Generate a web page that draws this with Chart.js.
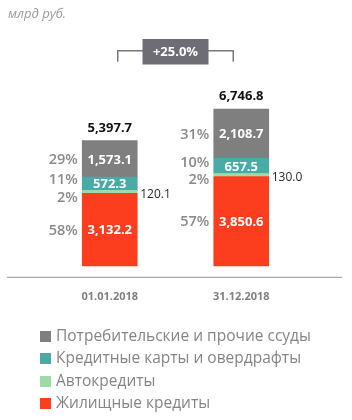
<!DOCTYPE html>
<html>
<head>
<meta charset="utf-8">
<script src="https://cdn.jsdelivr.net/npm/chart.js@4/dist/chart.umd.min.js"></script>
<style>
  html, body { margin: 0; padding: 0; background: #fff; }
  #wrap { position: relative; width: 352px; height: 420px; overflow: hidden; }
  #unit { position: absolute; left: 8px; top: 4px; font: italic 13px "Open Sans", sans-serif; color: #9a9a9a; }
  #legend { position: absolute; left: 40px; top: 324px; font: 15.5px "Open Sans", sans-serif; color: #858585; }
  #legend div { height: 22.3px; line-height: 22.3px; white-space: nowrap; }
  #legend span.box { display: inline-block; width: 11px; height: 11px; margin-right: 5px; vertical-align: -1px; }
</style>
</head>
<body>
<div id="wrap">
  <canvas id="c" width="352" height="420"></canvas>
  <div id="unit">млрд руб.</div>
  <div id="legend"></div>
</div>
<script>
// ---- data ----
const categories = ['01.01.2018', '31.12.2018'];
const housing  = [3132.2, 3850.6];
const autoLoans = [120.1, 130.0];
const cards    = [572.3, 657.5];
const consumer = [1573.1, 2108.7];
const totals   = [5397.7, 6746.8];
const housingShare  = [58, 57];
const autoShare     = [2, 2];
const cardsShare    = [11, 10];
const consumerShare = [29, 31];
const growthLabel = '+25.0%';
const seriesNames = ['Жилищные кредиты', 'Автокредиты', 'Кредитные карты и овердрафты', 'Потребительские и прочие ссуды'];
const seriesColors = ['#fc3e1e', '#9ddaa6', '#48aba6', '#7f7f7f'];

const fmt = v => v.toLocaleString('en-US', {minimumFractionDigits: 1, maximumFractionDigits: 1});
const FONT = '"Open Sans", sans-serif';

const seriesValues = [housing, autoLoans, cards, consumer];
const seriesShares = [housingShare, autoShare, cardsShare, consumerShare];

const labelPlugin = {
  id: 'labels',
  afterDatasetsDraw(chart) {
    const ctx = chart.ctx;
    const area = chart.chartArea;
    ctx.save();
    // axis line
    ctx.strokeStyle = '#a8a8a8';
    ctx.lineWidth = 1.2;
    ctx.beginPath();
    ctx.moveTo(7, area.bottom + 0.5);
    ctx.lineTo(342, area.bottom + 0.5);
    ctx.stroke();

    const metas = chart.data.datasets.map((d, i) => chart.getDatasetMeta(i));
    categories.forEach((cat, ci) => {
      const els = metas.map(m => m.data[ci]);
      const left = els[0].x - els[0].width / 2;
      const right = els[0].x + els[0].width / 2;
      // value labels inside bars
      ctx.textAlign = 'center';
      ctx.textBaseline = 'middle';
      ctx.font = 'bold 13px ' + FONT;
      ctx.fillStyle = '#ffffff';
      [0, 2, 3].forEach(si => {
        const e = els[si];
        ctx.fillText(fmt(seriesValues[si][ci]), e.x, (e.y + e.base) / 2 + 1);
      });
      // small auto label outside
      const ea = els[1];
      ctx.textAlign = 'left';
      ctx.font = '12px ' + FONT;
      ctx.fillStyle = '#2a2a2a';
      ctx.fillText(fmt(autoLoans[ci]), right + 3, (ea.y + ea.base) / 2 + 3);
      // total
      const top = els[3].y;
      ctx.textAlign = 'center';
      ctx.font = 'bold 13px ' + FONT;
      ctx.fillStyle = '#111';
      ctx.fillText(fmt(totals[ci]), els[0].x, top - 12.5);
      // percent labels, spread apart to avoid overlap
      let ys = els.map(e => (e.y + e.base) / 2);
      const gap = 17.5;
      for (let it = 0; it < 50; it++) {
        for (let k = 0; k < ys.length - 1; k++) {
          const d = ys[k] - ys[k + 1];
          if (d < gap) {
            const push = (gap - d) / 2;
            ys[k] += push;
            ys[k + 1] -= push;
          }
        }
      }
      ctx.textAlign = 'right';
      ctx.font = '600 14.5px ' + FONT;
      ctx.fillStyle = '#8a8a8a';
      seriesShares.forEach((arr, si) => {
        ctx.fillText(arr[ci] + '%', left - 4.5, ys[si] + 1);
      });
    });

    // growth bracket
    const x1 = metas[0].data[0].x + 8;
    const x2 = metas[0].data[1].x - 8;
    const yl = 50.7;
    ctx.strokeStyle = '#7a7a7a';
    ctx.lineWidth = 1.5;
    ctx.beginPath();
    ctx.moveTo(x1, yl + 11); ctx.lineTo(x1, yl); ctx.lineTo(x2, yl); ctx.lineTo(x2, yl + 11);
    ctx.stroke();
    const cx = (x1 + x2) / 2;
    ctx.fillStyle = '#6e6d75';
    ctx.fillRect(cx - 33, 39, 66, 25.5);
    ctx.fillStyle = '#fff';
    ctx.font = 'bold 13px ' + FONT;
    ctx.textAlign = 'center';
    ctx.textBaseline = 'middle';
    ctx.fillText(growthLabel, cx, 52);
    ctx.restore();
  }
};

const datasets = seriesNames.map((name, i) => ({
  label: name,
  data: seriesValues[i],
  backgroundColor: seriesColors[i],
  borderWidth: 0,
  barThickness: 55,
  stack: 's'
}));

new Chart(document.getElementById('c'), {
  type: 'bar',
  data: { labels: categories, datasets },
  options: {
    responsive: false,
    devicePixelRatio: 1,
    animation: false,
    layout: { padding: { left: 44, right: 45, top: 20, bottom: 104 } },
    plugins: { legend: { display: false }, tooltip: { enabled: false } },
    scales: {
      x: {
        stacked: true,
        grid: { display: false, drawTicks: false },
        border: { display: false },
        ticks: { padding: 13, color: '#7f7f7f', font: { family: FONT, size: 11, weight: 'bold' } }
      },
      y: {
        stacked: true,
        display: false,
        min: -463,
        max: 10584
      }
    }
  },
  plugins: [labelPlugin]
});

// HTML legend (top series first)
const lg = document.getElementById('legend');
for (let i = seriesNames.length - 1; i >= 0; i--) {
  const row = document.createElement('div');
  const box = document.createElement('span');
  box.className = 'box';
  box.style.background = seriesColors[i];
  row.appendChild(box);
  row.appendChild(document.createTextNode(seriesNames[i]));
  lg.appendChild(row);
}
</script>
</body>
</html>
